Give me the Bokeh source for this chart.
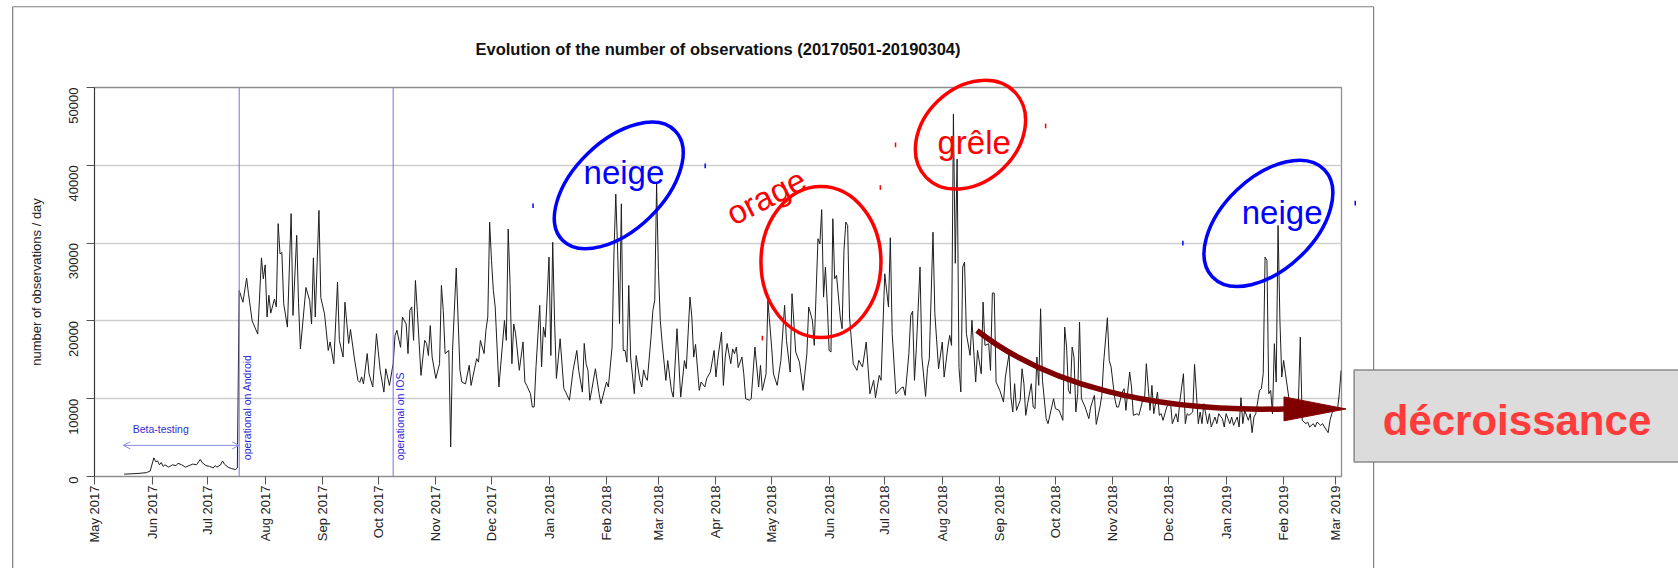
import math
import pandas as pd
from bokeh.plotting import figure
from bokeh.models import (Range1d, FixedTicker, DatetimeTickFormatter, NumeralTickFormatter,
                          Span, Arrow, OpenHead)
from bokeh.core.properties import value
from bokeh.embed import file_html
from bokeh.resources import INLINE

# ---------------- data ----------------
start_date = "2017-05-01"
end_date = "2019-03-04"
# day offsets since 2017-05-01 and number of observations per day
obs_day = [16, 20, 24, 28, 30, 32, 33, 34, 35, 36, 37, 38, 40, 42, 44, 45, 47, 49, 51, 53, 55, 57, 58, 60, 62, 64, 65, 66, 68, 69, 70, 72, 74, 76, 77,
           78, 80, 82, 83, 85, 88, 90, 91, 92, 93, 94, 95, 97, 98, 99, 100, 101, 102, 104, 106, 107, 109, 110, 111, 114, 116, 117, 118, 119, 121, 122, 124, 126, 127, 129,
           131, 132, 134, 135, 137, 138, 140, 142, 143, 144, 145, 147, 148, 150, 152, 154, 156, 157, 159, 161, 162, 163, 165, 166, 168, 169, 170, 171, 172, 173, 174, 176, 178, 179,
           180, 181, 182, 184, 186, 187, 188, 189, 191, 192, 193, 195, 197, 198, 200, 202, 203, 206, 207, 208, 210, 211, 212, 213, 214, 215, 216, 218, 221, 222, 223, 224, 225, 226, 227, 229,
           231, 232, 233, 235, 236, 237, 238, 240, 241, 242, 243, 245, 246, 247, 248, 249, 251, 253, 254, 256, 258, 260, 261, 263, 264, 265, 266, 267, 268, 270, 272, 273, 276, 277, 279,
           280, 281, 282, 283, 284, 285, 286, 287, 288, 289, 291, 292, 294, 295, 296, 297, 298, 300, 301, 302, 303, 304, 305, 306, 308, 309, 311, 312, 314, 316, 318, 319,
           321, 322, 323, 324, 326, 327, 329, 330, 332, 334, 335, 336, 338, 339, 340, 341, 343, 344, 345, 346, 347, 349, 350, 351, 353, 354, 356, 358, 359, 360, 362, 363, 365, 366, 368,
           370, 372, 373, 375, 376, 378, 380, 382, 384, 385, 387, 388, 390, 391, 392, 393, 394, 395, 396, 397, 398, 399, 400, 402, 403, 404, 405, 406, 407, 409, 411, 412, 414, 416, 418,
           420, 421, 423, 424, 426, 428, 429, 430, 432, 433, 435, 436, 437, 439, 440, 441, 442, 443, 445, 446, 448, 449, 450, 452, 453, 455, 457, 458, 460, 461, 462, 463, 464, 465, 466, 467,
           468, 469, 470, 472, 473, 474, 475, 476, 478, 479, 480, 482, 483, 484, 485, 486, 488, 490, 491, 493, 494, 495, 496, 497, 499, 500, 501, 502, 503, 505, 506, 507, 508, 509, 510, 511,
           513, 514, 516, 517, 518, 520, 522, 523, 524, 525, 526, 527, 528, 529, 530, 531, 532, 534, 536, 537, 539, 540, 542, 543, 544, 546, 547, 548, 550, 551, 552, 554, 555, 556, 558, 559,
           560, 562, 563, 565, 566, 567, 569, 570, 571, 573, 574, 575, 576, 578, 580, 581, 583, 584, 585, 587, 588, 589, 590, 592, 593, 595, 596, 597, 598, 600, 601, 602, 604, 605, 606, 608, 609,
           610, 612, 613, 614, 616, 617, 618, 619, 620, 622, 623, 624, 625, 626, 628, 629, 630, 631, 632, 633, 634, 635, 636, 637, 638, 639, 640, 641, 642, 644, 645, 646, 648, 649,
           650, 651, 653, 654, 655, 657, 658, 659, 661, 662, 663, 665, 666, 667, 668, 670, 671, 672]
obs_count = [300, 350, 400, 500, 700, 2400, 1900, 2000, 1500, 1800, 1300, 1500, 1200, 1500, 1400, 1700, 1500, 1200, 1400, 1600, 1500, 2200, 1800, 1400, 1300, 1100, 1400, 1200, 1500, 2000, 1600, 1200, 1000, 900, 1100,
             23900, 22400, 25500, 23500, 20000, 18300, 28100, 25400, 27200, 20500, 23300, 21000, 22800, 21800, 32500, 28600, 28800, 22200, 19200, 33800, 20700, 31000, 22200, 16400, 24300, 22600, 19600, 28100, 20500, 34200, 23000, 20900, 16200, 17300, 14500,
             25000, 17500, 15350, 22400, 17100, 18900, 15350, 12350, 12100, 12800, 11900, 15800, 13200, 11500, 18350, 13650, 10850, 13850, 11700, 14500, 18100, 18800, 16600, 20500, 19600, 15800, 21350, 21800, 17500, 25200, 21350, 13000, 17500, 17100,
             15550, 19400, 15350, 12600, 14500, 24560, 21350, 15800, 16200, 3800, 16200, 26800, 13650, 12150, 11900, 14300, 11700, 15150, 14700, 17500, 15800, 18800, 20500, 32700, 27800, 23900, 21800, 11500, 20050, 17500, 31800, 24800, 14500, 19600, 18350, 13650,
             17300, 12150, 11700, 10650, 8930, 8930, 14100, 22000, 14100, 19200, 17900, 28200, 15550, 30100, 20050, 12600, 17700, 11300, 10850, 9800, 13650, 16200, 13650, 10850, 17100, 14500, 13650, 9800, 11070, 13850, 10650, 9360, 12150, 11500, 16650,
             28600, 36300, 29000, 19650, 35050, 16200, 16200, 14700, 24560, 15350, 10650, 15550, 12350, 11500, 13700, 12800, 12350, 17900, 21350, 22650, 37600, 26500, 20050, 17150, 12350, 14900, 11070, 10200, 19000, 10200, 14900, 13850,
             23060, 20500, 15350, 16980, 11070, 12150, 11500, 12600, 13430, 16200, 12800, 15150, 18570, 11700, 15350, 17100, 14500, 16400, 15800, 16640, 14000, 15350, 13200, 10000, 9800, 10000, 16640, 11500, 14280, 11070, 13200, 22630, 16640, 13200, 11710,
             14930, 22000, 17500, 13430, 23500, 16000, 14700, 11070, 15780, 21780, 20070, 16850, 30560, 29900, 34300, 23060, 26900, 22200, 16200, 16000, 33130, 25420, 25850, 20500, 19000, 29060, 32700, 32270, 20500, 14500, 13640, 14930, 14070, 17280, 10640,
             12360, 10130, 13000, 12360, 26060, 21780, 30690, 18350, 10640, 10860, 11410, 11500, 10430, 15780, 20700, 21260, 12360, 16420, 26920, 15350, 10300, 13850, 15140, 31400, 20920, 13850, 17280, 12780, 16640, 18140, 16850, 46600, 27400, 40800, 14000, 10860,
             26920, 27560, 18350, 15570, 20070, 16000, 12140, 16210, 13210, 22420, 16850, 17070, 13640, 23580, 23580, 12140, 11070, 9570, 12780, 15780, 10210, 8290, 11930, 8500, 9790, 13850, 11930, 7860, 9360, 11930, 8930, 8720, 15350, 11710, 21560, 12360,
             7430, 6790, 8930, 10000, 8720, 8500, 7220, 19210, 16640, 11070, 10640, 16640, 15350, 8290, 10640, 19850, 10000, 8930, 7430, 8930, 10430, 6700, 8930, 10430, 14710, 20400, 14930, 14070, 10000, 8930, 8930, 10860, 11280, 8500, 13430, 11500,
             7860, 8070, 7860, 9790, 9790, 14500, 8500, 11710, 8070, 10860, 7860, 8070, 7220, 8930, 9570, 6790, 8070, 7000, 9570, 13210, 6790, 8070, 7860, 8290, 14410, 6790, 8290, 6790, 9360, 6790, 8070, 6360, 7640, 6790, 8070, 7430, 6360,
             8070, 6790, 7640, 6570, 7640, 6360, 10130, 6790, 8500, 7220, 8070, 5640, 7640, 8070, 11070, 11280, 13210, 28200, 27770, 10640, 11070, 8070, 17070, 12140, 32270, 20070, 12780, 14930, 13210, 9790, 7860, 9790, 8930, 9790,
             17920, 7220, 6790, 7000, 6360, 6790, 6360, 7000, 6570, 6790, 6360, 5640, 7220, 8070, 8930, 8500, 10640, 13640]

y_ticks = [0, 10000, 20000, 30000, 40000, 50000]
month_ticks = pd.date_range("2017-05-01", "2019-03-01", freq="MS")
android_day = 78      # operational on Android
ios_day = 161         # operational on IOS
beta_days = (15.5, 78)

START = pd.Timestamp(start_date)
EPOCH = pd.Timestamp("1970-01-01")


def ms(d):
    return (START + pd.Timedelta(days=d) - EPOCH).total_seconds() * 1000.0


def tms(t):
    return (t - EPOCH).total_seconds() * 1000.0


FONT = "Liberation Sans"

p = figure(width=1678, height=568, x_axis_type="datetime",
           x_range=Range1d(ms(0), ms(672.2)), y_range=Range1d(0, 50000),
           output_backend="svg", toolbar_location=None,
           min_border_left=94, min_border_right=337, min_border_top=87, min_border_bottom=92)
p.background_fill_color = "white"
p.border_fill_color = "white"
p.outline_line_color = "#8f8f8f"
p.outline_line_width = 1.3

# grid
p.xgrid.visible = False
p.ygrid.ticker = FixedTicker(ticks=[10000, 20000, 30000, 40000])
p.ygrid.grid_line_color = "#cfcfcf"
p.ygrid.grid_line_width = 1.3

# axes
p.yaxis.ticker = FixedTicker(ticks=y_ticks)
p.yaxis.formatter = NumeralTickFormatter(format="0")
p.yaxis.major_label_orientation = math.pi / 2
p.xaxis.ticker = FixedTicker(ticks=[tms(t) for t in month_ticks])
fmt = "%b %Y"
p.xaxis.formatter = DatetimeTickFormatter(milliseconds=fmt, seconds=fmt, minsec=fmt, minutes=fmt, hourmin=fmt,
                                          hours=fmt, days=fmt, months=fmt, years=fmt)
p.xaxis.major_label_orientation = math.pi / 2
for ax in (p.xaxis[0], p.yaxis[0]):
    ax.major_tick_out = 8
    ax.major_tick_in = 0
    ax.minor_tick_out = 0
    ax.minor_tick_in = 0
    ax.major_tick_line_color = "#555555"
    ax.major_label_text_font = FONT
    ax.major_label_text_font_size = "13px"
    ax.major_label_text_color = "#222222"
p.xaxis.axis_line_color = "#8f8f8f"
p.yaxis.axis_line_color = "#333333"
p.xaxis.major_label_standoff = 1
p.yaxis.major_label_standoff = 13
p.yaxis.axis_label = "number of observations / day"
p.yaxis.axis_label_text_font = FONT
p.yaxis.axis_label_text_font_size = "13px"
p.yaxis.axis_label_text_font_style = "normal"
p.yaxis.axis_label_text_color = "#222222"
p.yaxis.axis_label_standoff = 18

# launch markers
for d in (android_day, ios_day):
    p.add_layout(Span(location=ms(d), dimension="height", line_color="#7272ee", line_width=1))
p.add_layout(Arrow(start=OpenHead(size=7, line_color="#8a8ae6", line_width=1),
                   end=OpenHead(size=7, line_color="#8a8ae6", line_width=1),
                   x_start=ms(beta_days[0]), y_start=4000, x_end=ms(beta_days[1]), y_end=4000,
                   line_color="#8a8ae6", line_width=1))
p.text(x=[ms(35.7)], y=[6050], text=["Beta-testing"], text_font=value(FONT), text_font_size=value("10.5px"),
       text_color="#3030cc", text_align="center", text_baseline="middle")
p.text(x=[ms(82.3), ms(164.6)], y=[2100, 2100], text=["operational on Android", "operational on IOS"],
       angle=math.pi / 2, text_font=value(FONT), text_font_size=value("10.5px"),
       text_color="#2b2bd0", text_align="left", text_baseline="middle")

# data line
p.line([ms(d) for d in obs_day], obs_count, line_color="#1e1e1e", line_width=1)

# hand-drawn annotations
p.ellipse(x=[ms(282.6), ms(632.8)], y=[37410, 32540], width=[157, 155], height=[89, 92],
          angle=[0.768, 0.764], width_units="screen", height_units="screen",
          fill_alpha=0, line_color="#0000ff", line_width=3.5, level="overlay")
p.ellipse(x=[ms(391.6), ms(472.2)], y=[27560, 43930], width=[120, 123], height=[151, 94],
          angle=[0.0, 0.76], width_units="screen", height_units="screen",
          fill_alpha=0, line_color="#ff0000", line_width=3.5, level="overlay")
p.text(x=[ms(285.4), ms(640.2)], y=[39030, 33950], text=["neige", "neige"], text_font=value(FONT),
       text_font_size=value("33px"), text_color="#0000ff", text_align="center", text_baseline="alphabetic",
       level="overlay")
p.text(x=[ms(474.2)], y=[42930], text=["grêle"], text_font=value(FONT),
       text_font_size=value("33px"), text_color="#ff0000", text_align="center", text_baseline="alphabetic",
       level="overlay")
p.text(x=[ms(362)], y=[35980], text=["orage"], angle=0.47, text_font=value(FONT),
       text_font_size=value("33px"), text_color="#ff0000", text_align="center", text_baseline="middle",
       level="overlay")

# trend arrow
p.bezier(x0=[ms(475.7)], y0=[18770], x1=[ms(641.2)], y1=[8690],
         cx0=[ms(512.9)], cy0=[11840], cx1=[ms(569.5)], cy1=[8240],
         line_color="#800000", line_width=5.5)
p.patch([ms(641.2), ms(674.6), ms(641.2)], [10230, 8690, 7150], fill_color="#800000",
        line_color="#800000", level="overlay")

# stray pen marks
mk_day = [236.4, 329.2, 586.7, 431.8, 423.6, 512.7, 360.0, 679.6]
mk_val = [34800, 39920, 30000, 42630, 37140, 45060, 17790, 35130]
mk_col = ["#0000ff", "#0000ff", "#0000ff", "#ff0000", "#ff0000", "#ff0000", "#ff0000", "#0000ff"]
p.segment(x0=[ms(d) for d in mk_day], y0=[v - 300 for v in mk_val], x1=[ms(d) for d in mk_day],
          y1=[v + 300 for v in mk_val], line_color=mk_col, line_width=1.5, level="overlay")

# title
p.text(x=[ms(336.1)], y=[54930], text=["Evolution of the number of observations (20170501-20190304)"],
       text_font=value(FONT), text_font_size=value("16.5px"), text_font_style="bold", text_color="#111111",
       text_align="center", text_baseline="middle", level="overlay")

# outer frame of the picture
p.multi_line(xs=[[ms(-44.1), ms(-44.1)], [ms(-44.1), ms(689.5)], [ms(689.5), ms(689.5)]],
             ys=[[60380, -13000], [60380, 60380], [60380, -13000]],
             line_color="#7f7f7f", line_width=1.2, level="overlay")

# "décroissance" box
p.quad(left=[ms(679.0)], right=[ms(880.0)], top=[13700], bottom=[1860], fill_color="#dcdcdc",
       line_color="#8a8a8a", line_width=1.5, level="overlay")
p.text(x=[ms(766.8)], y=[7240], text=["décroissance"], text_font=value(FONT),
       text_font_size=value("42px"), text_font_style="bold", text_color="#ff3b3b",
       text_align="center", text_baseline="alphabetic", level="overlay")

open("out.html", "w").write(file_html(p, INLINE))
